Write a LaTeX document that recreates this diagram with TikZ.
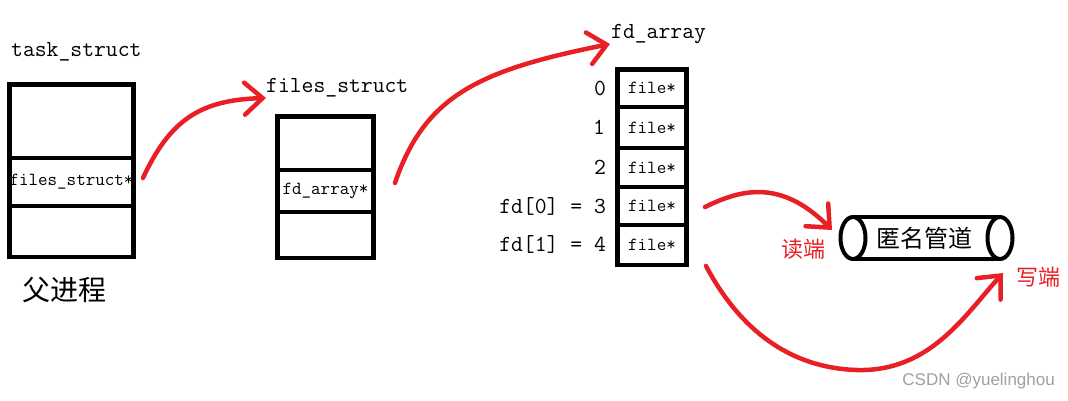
\documentclass[tikz,border=0pt]{standalone}
\usepackage{fontspec}
\newfontfamily\cjk{Noto Sans CJK SC}
\newfontfamily\wmfont{Liberation Sans}
\usetikzlibrary{positioning, arrows.meta}
\definecolor{penred}{RGB}{232,32,38}
\definecolor{wmgray}{RGB}{160,160,160}

\begin{document}
\begin{tikzpicture}[x=1pt, y=-1pt,
    cell/.style={draw, line width=4.5pt, inner sep=0pt, font=\ttfamily\fontsize{18.5}{20}\selectfont},
    title/.style={anchor=west, inner sep=0pt, font=\ttfamily\fontsize{23}{25}\selectfont},
    idx/.style={inner sep=0pt, font=\ttfamily\fontsize{23}{25}\selectfont},
    redarrow/.style={draw=penred, line width=4.5pt, line cap=round,
        -{Straight Barb[length=18pt, width=32pt, line cap=round]}},
    redtext/.style={text=penred, inner sep=0pt, font=\cjk\fontsize{22}{24}\selectfont}]
    \useasboundingbox (0,0) rectangle (1068,400);

    % task_struct
    \node[title] (tstitle) at (11,52) {task\_struct};
    \node[cell, minimum width=124.4pt, minimum height=73.7pt] (ts1) at (71.5,121.2) {};
    \node[cell, minimum width=124.4pt, minimum height=48pt] (ts2) at (71.5,182) {files\_struct*};
    \node[cell, minimum width=124.4pt, minimum height=50.7pt] (ts3) at (71.5,231.4) {};
    \node[inner sep=0pt, font=\cjk\fontsize{28}{30}\selectfont] (parent) at (64,290) {父进程};

    % files_struct
    \node[title] (fstitle) at (266,88) {files\_struct};
    \node[cell, minimum width=96.4pt, minimum height=53.7pt] (fs1) at (325.5,143.2) {};
    \node[cell, minimum width=96.4pt, minimum height=42pt] (fs2) at (325.5,191) {fd\_array*};
    \node[cell, minimum width=96.4pt, minimum height=45.7pt] (fs3) at (325.5,234.9) {};

    % fd_array
    \node[title] (fdtitle) at (611,34) {fd\_array};
    \node[cell, minimum width=69.4pt, minimum height=37.7pt] (fd0) at (652,88.2) {file*};
    \node[cell, minimum width=69.4pt, minimum height=41pt] (fd1) at (652,127.5) {file*};
    \node[cell, minimum width=69.4pt, minimum height=39pt] (fd2) at (652,167.5) {file*};
    \node[cell, minimum width=69.4pt, minimum height=38pt] (fd3) at (652,206) {file*};
    \node[cell, minimum width=69.4pt, minimum height=39.7pt] (fd4) at (652,244.9) {file*};
    \node[idx, left=9pt of fd0] {0};
    \node[idx, left=10pt of fd1] {1};
    \node[idx, left=9pt of fd2] {2};
    \node[idx, left=9pt of fd3] {fd[0] = 3};
    \node[idx, left=9pt of fd4] {fd[1] = 4};

    % pipe
    \coordinate (pl) at (853,238);
    \coordinate (pr) at (1000,238);
    \draw[line width=4pt] ([yshift=21pt]pl) -- ([yshift=21pt]pr);
    \draw[line width=4pt] ([yshift=-21pt]pl) -- ([yshift=-21pt]pr);
    \draw[line width=4pt, fill=white] (pl) ellipse (12.5pt and 21pt);
    \draw[line width=4pt, fill=white] (pr) ellipse (12.5pt and 21pt);
    \node[inner sep=0pt, font=\cjk\fontsize{24}{26}\selectfont] (pipe) at (924,238) {匿名管道};
    \node[redtext] (rd) at (803,249) {读端};
    \node[redtext] (wr) at (1038,277) {写端};

    \draw[redarrow] ([shift={(7pt,4pt)}]ts2.east) .. controls (170,120) and (200,100) .. ([yshift=-10pt]fstitle.west);
    \draw[redarrow] ([shift={(19pt,8pt)}]fs2.east) .. controls (425,95) and (480,70) .. ([shift={(-1pt,-10pt)}]fdtitle.west);
    \draw[redarrow] ([shift={(16pt,-1pt)}]fd3.east) .. controls (740,190) and (780,178) .. ([shift={(-21pt,8pt)}]pl);
    \draw[redarrow] ([shift={(17pt,-21pt)}]fd4.east) .. controls (740,330) and (790,368) .. (857,370)
        .. controls (930,372) and (965,315) .. ([shift={(3pt,-35pt)}]pr);

    \node[anchor=east, inner sep=0pt, text=wmgray, font=\wmfont\fontsize{17}{19}\selectfont] (wm) at (1055,381) {CSDN @yuelinghou};
\end{tikzpicture}
\end{document}
